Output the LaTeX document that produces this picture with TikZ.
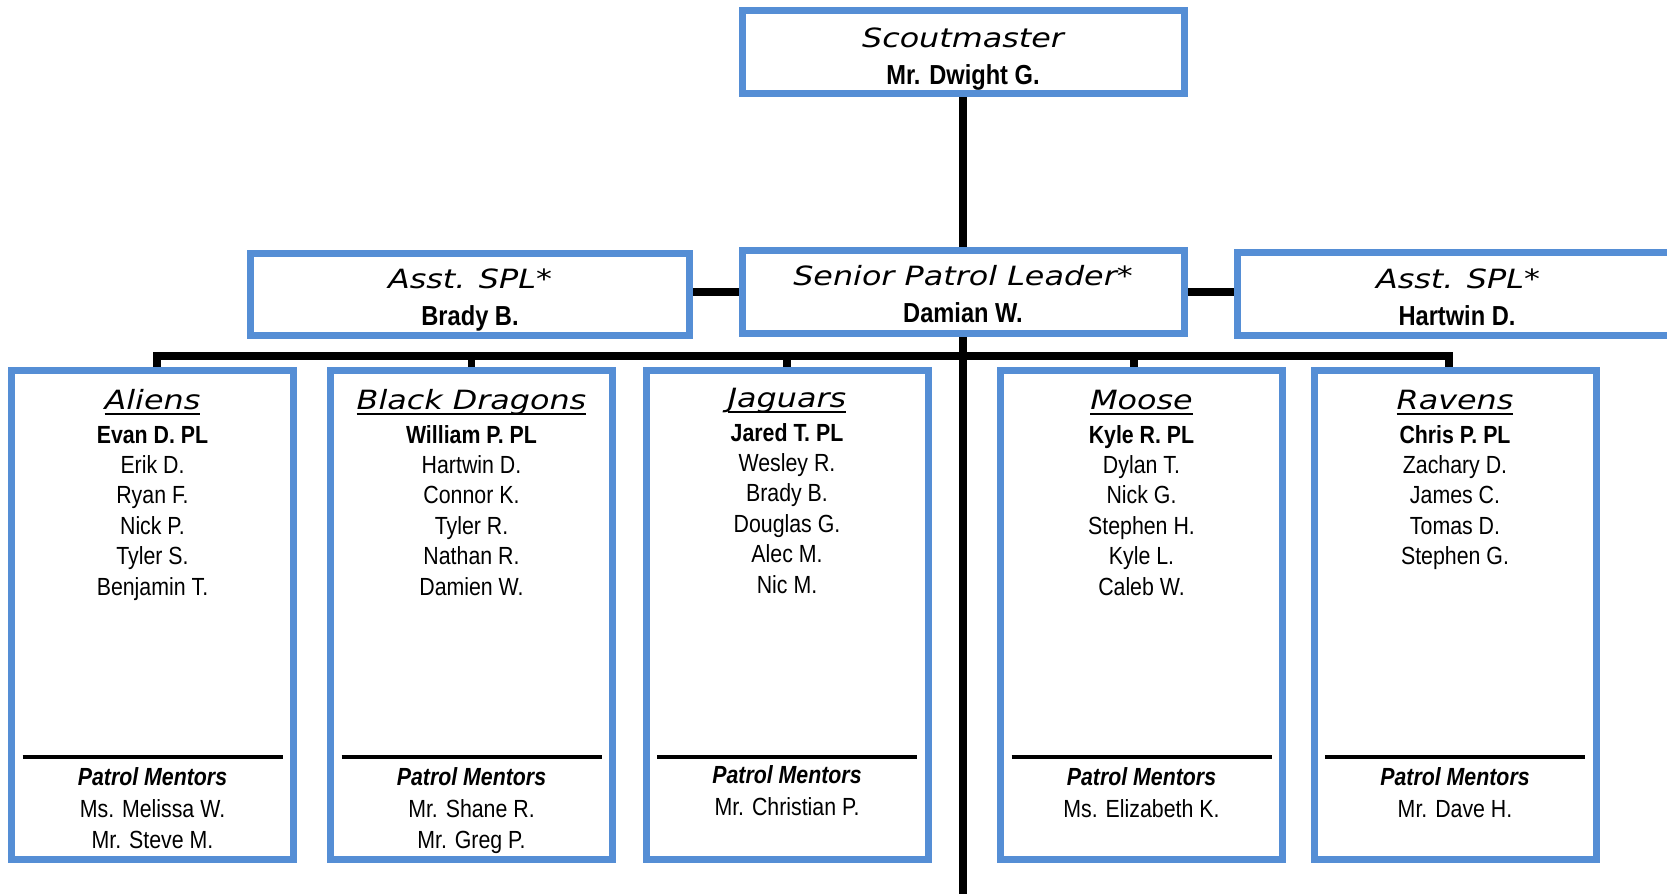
\documentclass[tikz,border=0pt]{standalone}
\usepackage{fontspec}
\usetikzlibrary{backgrounds}
\newfontfamily\wideit[FakeStretch=1.2]{DejaVu Sans}
\newfontfamily\narrow[FakeStretch=0.86]{Liberation Sans}
\definecolor{boxblue}{RGB}{85,142,213}
\newcommand\myul[1]{\setbox0=\hbox{#1}\rlap{\rule[-6pt]{\wd0}{2.2pt}}\box0}
\tikzset{
  box/.style={draw=boxblue, line width=7pt, fill=white, inner sep=0pt},
  hbox/.style={box, minimum width=442pt, minimum height=83pt},
  pbox/.style={box, minimum width=282pt, minimum height=489pt},
  conn/.style={line width=7.5pt, black},
  sepline/.style={line width=4.5pt, black},
  ttl/.style={anchor=base, inner sep=0pt, font=\wideit\itshape\fontsize{26.5}{30}\selectfont},
  hname/.style={anchor=base, inner sep=0pt, font=\narrow\bfseries\fontsize{27.5}{30}\selectfont},
  pname/.style={anchor=base, inner sep=0pt, font=\narrow\fontsize{24.8}{28}\selectfont},
  plname/.style={anchor=base, inner sep=0pt, font=\narrow\bfseries\fontsize{24.8}{28}\selectfont},
  mhead/.style={anchor=base, inner sep=0pt, font=\narrow\bfseries\itshape\fontsize{24.8}{28}\selectfont},
}
\newcommand\patrol[7]{%
  \node[pbox] (#1) at (#2,615) {};
  \draw[sepline] (#2-130,757) -- (#2+130,757);
  \begin{scope}[yshift=#7]
    \node[ttl] (#1-t) at (#2,409) {\myul{#3}};
    \node[plname] (#1-pl) at (#2,443) {#4};
    \foreach \mbr [count=\i] in {#5} \node[pname] (#1-m\i) at (#2,{443+30.4*\i}) {\mbr};
    \node[mhead] (#1-mh) at (#2,785) {Patrol Mentors};
    \foreach \mbr [count=\i] in {#6} \node[pname] (#1-n\i) at (#2,{786+31*\i}) {\mbr};
  \end{scope}}
\begin{document}
\begin{tikzpicture}[x=1pt,y=-1pt]
\useasboundingbox (0,0) rectangle (1667,894);
\clip (0,0) rectangle (1667,894);

% header boxes
\node[hbox] (sm) at (963,52) {};
\node[ttl] (sm-t) at (963,47) {Scoutmaster};
\node[hname] (sm-n) at (963,84.5) {Mr. Dwight G.};

\node[hbox] (spl) at (963,292) {};
\node[ttl] (spl-t) at (963,285.5) {Senior Patrol Leader*};
\node[hname] (spl-n) at (963,322) {Damian W.};

\node[hbox, minimum width=439pt, minimum height=82pt] (as1) at (470,294.5) {};
\node[ttl] (as1-t) at (470,288.5) {Asst. SPL*};
\node[hname] (as1-n) at (470,325) {Brady B.};

\node[hbox] (as2) at (1458,294) {};
\node[ttl] (as2-t) at (1458,288.5) {Asst. SPL*};
\node[hname] (as2-n) at (1457,325) {Hartwin D.};

% patrols
\patrol{al}{152.5}{Aliens}{Evan D. PL}{Erik D.,Ryan F.,Nick P.,Tyler S.,Benjamin T.}{Ms. Melissa W.,Mr. Steve M.}{0pt}
\patrol{bd}{471.5}{Black Dragons}{William P. PL}{Hartwin D.,Connor K.,Tyler R.,Nathan R.,Damien W.}{Mr. Shane R.,Mr. Greg P.}{0pt}
\patrol{jg}{787}{Jaguars}{Jared T. PL}{Wesley R.,Brady B.,Douglas G.,Alec M.,Nic M.}{Mr. Christian P.}{2pt}
\patrol{mo}{1141.5}{Moose}{Kyle R. PL}{Dylan T.,Nick G.,Stephen H.,Kyle L.,Caleb W.}{Ms. Elizabeth K.}{0pt}
\patrol{rv}{1455}{Ravens}{Chris P. PL}{Zachary D.,James C.,Tomas D.,Stephen G.}{Mr. Dave H.}{0pt}

% connectors
\coordinate (bus) at (963,356);
\coordinate (bot) at (963,894);
\begin{scope}[on background layer]
  \draw[conn] (sm.south) -- (spl.north);
  \draw[conn] (spl.west) -- (spl.west -| as1.east);
  \draw[conn] (spl.east) -- (spl.east -| as2.west);
  \draw[conn] (spl.south) -- (bot);
  \draw[conn] ([xshift=4.5pt]al.north) |- (bus) -| ([xshift=-6pt]rv.north);
  \draw[conn] (bd.north) -- (bd.north |- bus);
  \draw[conn] (jg.north) -- (jg.north |- bus);
  \draw[conn] ([xshift=-7.5pt]mo.north) -- ([xshift=-7.5pt]mo.north |- bus);
\end{scope}
\end{tikzpicture}
\end{document}
